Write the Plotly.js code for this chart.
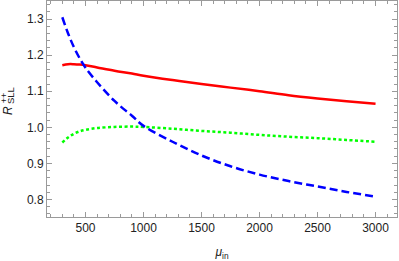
<!DOCTYPE html>
<html><head><meta charset="utf-8">
<script src="https://cdn.plot.ly/plotly-3.0.1.min.js"></script>
<style>html,body{margin:0;padding:0;background:#fff}#c{width:399px;height:261px}</style>
</head><body><div id="c"></div>
<script>
const mu = [300, 350, 400, 450, 500, 600, 750, 900, 1000, 1250, 1500, 1750, 2000, 2250, 2500, 2750, 3000];
const red = [1.172, 1.175, 1.175, 1.174, 1.172, 1.166, 1.157, 1.149, 1.143, 1.131, 1.120, 1.110, 1.100, 1.089, 1.080, 1.072, 1.065];
const green = [0.958, 0.972, 0.982, 0.989, 0.993, 0.998, 1.001, 1.002, 1.001, 0.996, 0.990, 0.985, 0.979, 0.974, 0.970, 0.965, 0.960];
const blue = [1.305, 1.260, 1.222, 1.191, 1.165, 1.125, 1.073, 1.032, 1.004, 0.960, 0.922, 0.892, 0.869, 0.851, 0.836, 0.821, 0.808];
const xTitle = '<i>μ</i><sub>in</sub>';
const yTitleMain = '<i>R</i>';
const yTitleSub = 'SLL';
const yTitleSup = '++';

const fam = 'Liberation Sans, Arial, sans-serif';
const traces = [
  {x: mu, y: red, mode: 'lines', line: {color: '#ff0000', width: 2.5, shape: 'spline'}},
  {x: mu, y: green, mode: 'lines', line: {color: '#00ff00', width: 2.5, dash: '3px,2.5px', shape: 'spline'}},
  {x: mu, y: blue, mode: 'lines', line: {color: '#0000ff', width: 2.5, dash: '8px,4px', shape: 'spline'}}
];
const ax = {
  showline: true, mirror: 'ticks', linecolor: '#9a9a9a', linewidth: 1,
  ticks: 'inside', ticklen: 5, tickcolor: '#9a9a9a', tickwidth: 1,
  showgrid: false, zeroline: false,
  tickfont: {family: fam, size: 12, color: '#222'}
};
const ann = (text, size, xs, yp) => ({
  text: text, xref: 'paper', yref: 'paper', x: 0, y: yp, xshift: xs,
  xanchor: 'center', yanchor: 'middle', textangle: -90, showarrow: false,
  font: {family: fam, size: size, color: '#222'}
});
const layout = {
  width: 399, height: 261,
  margin: {l: 47, r: 2, t: 1, b: 44},
  showlegend: false,
  paper_bgcolor: '#fff', plot_bgcolor: '#fff',
  xaxis: Object.assign({}, ax, {
    range: [168, 3185], dtick: 500, tick0: 0,
    minor: {dtick: 100, ticklen: 3, tickcolor: '#9a9a9a', ticks: 'inside', showgrid: false},
    title: {text: xTitle, font: {family: fam, size: 12, color: '#222'}, standoff: 13}
  }),
  yaxis: Object.assign({}, ax, {
    range: [0.7515, 1.35], dtick: 0.1, tick0: 0, tickformat: '.1f',
    minor: {dtick: 0.02, ticklen: 3, tickcolor: '#9a9a9a', ticks: 'inside', showgrid: false}
  }),
  annotations: [
    ann(yTitleMain, 12, -39, 0.491),
    ann(yTitleSub, 9.5, -36.5, 0.562),
    ann(yTitleSup, 9, -43, 0.55)
  ]
};
Plotly.newPlot('c', traces, layout, {displayModeBar: false, staticPlot: true});
</script></body></html>
